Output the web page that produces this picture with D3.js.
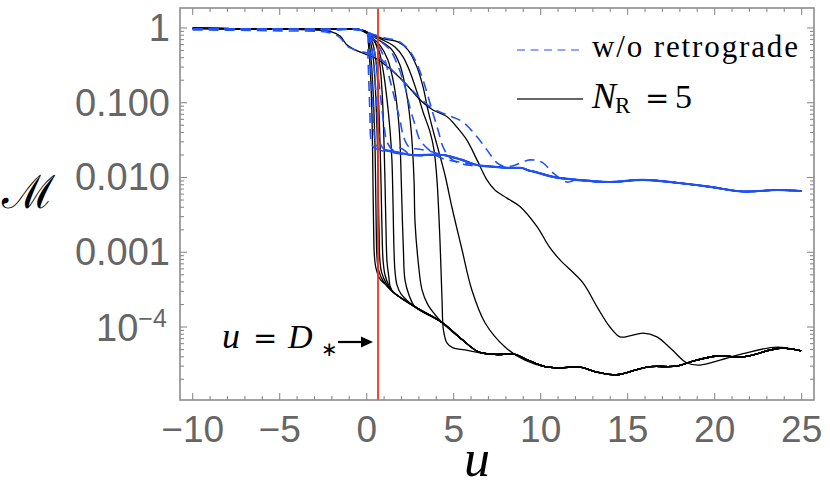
<!DOCTYPE html>
<html><head><meta charset="utf-8">
<script src="https://cdn.jsdelivr.net/npm/d3@7"></script>
<style>body{margin:0;background:#fff}</style>
</head><body>
<svg id="c" width="830" height="488"></svg>
<script>
// ---------- data (u, M) ----------
const xTicks = [-10, -5, 0, 5, 10, 15, 20, 25];
const xTickLabels = ["\u221210", "\u22125", "0", "5", "10", "15", "20", "25"];
const yTicks = [1, 0.1, 0.01, 0.001, 1e-4];
const yTickLabels = ["1", "0.100", "0.010", "0.001", "10^-4"];
const D_STAR = 0.65;

const TOP_BLACK = [[-10, 0.985], [-6, 0.98], [-2, 0.965], [-0.4, 0.95]];
const TOP_DASH  = [[-10, 0.97], [-6, 0.965], [-2, 0.955], [-0.4, 0.945]];

// common lower envelope of the N_R = 5 curves
const ENV = [[1.23,3.3e-4],[1.51,2.95e-4],[2.78,1.86e-4],[4.33,1.15e-4],[5.48,6.8e-5],[6.4,4.7e-5],
  [7.37,4.3e-5],[8.52,4.3e-5],[9.27,3.6e-5],[10.25,2.95e-5],[11.11,2.85e-5],[12.26,2.9e-5],
  [13.24,2.5e-5],[14.38,2.3e-5],[15.53,2.7e-5],[16.28,2.95e-5],[17.83,3.0e-5],[18.75,3.5e-5],
  [20.13,4.1e-5],[21.63,4.0e-5],[23.76,5.2e-5],[24.97,4.8e-5]];

const C1 = [[-10,0.985],[-3.83,0.95],[-2.1,0.90],[-1.53,0.78],[-1.13,0.59],[-0.67,0.51],[0.59,0.385],
  [1.22,0.30],[2.2,0.184],[3.18,0.103],[3.81,0.080],[4.62,0.065],[5.19,0.047],[5.76,0.0316],
  [6.34,0.0172],[6.91,0.0093],[7.37,0.0068],[8.06,0.0053],[8.81,0.0041],[9.79,0.0022],
  [10.53,0.00115],[11.11,0.00079],[12.43,3.9e-4],[13.24,1.86e-4],[13.98,1.0e-4],[14.55,7.4e-5],
  [15.12,7.6e-5],[15.88,8.3e-5],[16.68,7.4e-5],[17.54,5.0e-5],[18.41,3.3e-5],[19.16,3.1e-5],
  [20.31,3.6e-5],[21.63,4.4e-5],[23.58,5.4e-5],[24.97,4.8e-5]];
const C2 = [[0.30,0.83],[1.05,0.71],[1.80,0.65],[2.37,0.51],[2.89,0.30],[3.24,0.163],[3.52,0.080],
  [3.81,0.043],[4.04,0.0273],[4.50,0.0108],[4.90,0.0040],[5.48,0.00108],[6.05,3.1e-4],[6.80,1.14e-4],
  [7.95,5.4e-5],[9.10,3.6e-5]];
const C3 = [[0.30,0.805],[1.05,0.67],[1.63,0.557],[2.09,0.41],[2.49,0.258],[2.89,0.139],[3.24,0.0753],
  [3.64,0.0407],[3.87,0.0234],[4.04,0.0093],[4.21,0.00147],[4.33,2.31e-4],[4.41,9.2e-5],
  [4.61,6.15e-5],[4.96,5.27e-5],[5.65,4.95e-5],[6.51,4.52e-5]];
const C4 = [[0.30,0.78],[0.88,0.65],[1.45,0.51],[1.91,0.32],[2.20,0.173],[2.43,0.080],[2.60,0.0318],
  [2.72,0.0093],[2.78,0.00247],[2.95,7.9e-4],[3.18,3.14e-4],[3.52,1.98e-4],[3.93,1.46e-4]];
const C5 = [[0.25,0.76],[0.76,0.59],[1.22,0.373],[1.57,0.173],[1.80,0.0687],[1.91,0.0318],[1.97,0.0126],
  [2.03,0.00405],[2.11,0.00108],[2.20,4.27e-4],[2.43,2.69e-4]];
const C6 = [[0.19,0.78],[0.65,0.54],[0.94,0.275],[1.17,0.109],[1.34,0.0433],[1.45,0.0172],[1.51,0.0050],
  [1.57,0.00108],[1.63,5.47e-4],[1.74,3.66e-4],[1.97,2.78e-4]];
const C7 = [[0.13,0.83],[0.53,0.61],[0.76,0.32],[0.91,0.109],[0.99,0.0318],[1.05,0.0093],[1.11,0.0020],
  [1.17,7.4e-4],[1.28,4.55e-4],[1.34,3.56e-4]];
const C8 = [[0.10,0.845],[0.36,0.61],[0.56,0.32],[0.68,0.109],[0.76,0.0318],[0.82,0.0093],[0.88,0.0020],
  [0.94,7.9e-4],[1.05,5.0e-4],[1.28,3.56e-4]];
const C9 = [[0.07,0.857],[0.25,0.61],[0.42,0.32],[0.53,0.109],[0.61,0.0318],[0.65,0.0093],[0.71,0.0020],
  [0.75,8.4e-4],[0.85,5.47e-4],[1.11,3.9e-4]];
const C10 = [[0.05,0.857],[0.16,0.61],[0.28,0.32],[0.39,0.109],[0.47,0.0318],[0.51,0.0093],[0.55,0.0020],
  [0.59,8.7e-4],[0.68,5.8e-4],[0.94,4.15e-4]];
const C11 = [[0.02,0.857],[0.10,0.61],[0.19,0.32],[0.28,0.109],[0.33,0.0318],[0.36,0.0093],[0.40,0.0020],
  [0.44,9.2e-4],[0.53,6.2e-4],[0.76,4.4e-4],[1.11,3.66e-4]];

// blue solid curve
const BLUE = [[0.94,0.0234],[1.63,0.022],[2.6,0.020],[4.39,0.020],[5.48,0.0172],[6.34,0.0147],
  [7.37,0.0139],[8.24,0.0134],[8.93,0.0134],[9.22,0.0126],[9.67,0.0119],[10.71,0.0102],[12.09,0.0093],
  [13.98,0.0087],[15.88,0.0093],[17.83,0.0085],[19.73,0.0075],[21.63,0.0065],[23.58,0.0068],[25.0,0.0066]];

// w/o retrograde (dashed)
const D1 = [[-10,0.94],[-5.0,0.915],[-2.1,0.86],[-1.53,0.74],[-1.13,0.575],[-0.67,0.51],[0.59,0.42],
  [1.22,0.31],[2.2,0.184],[3.18,0.109],[3.81,0.083],[4.62,0.0686],[5.53,0.0553],[6.34,0.035],
  [6.91,0.0234],[7.49,0.0157],[7.95,0.0139],[8.41,0.0143],[9.39,0.0172],[10.13,0.0157],
  [10.71,0.0115],[11.51,0.0087]];
const D2 = [[0.30,0.83],[1.05,0.735],[1.80,0.67],[2.37,0.524],[2.78,0.373],[3.18,0.221],[3.47,0.135],
  [3.75,0.080],[4.10,0.0433],[4.39,0.0256],[4.79,0.0183],[5.25,0.0157],[5.77,0.0147],[6.34,0.0143]];
const D3 = [[0.25,0.805],[0.76,0.67],[1.34,0.51],[1.80,0.31],[2.20,0.163],[2.49,0.0852],[2.78,0.0505],
  [3.06,0.0318],[3.52,0.0241],[4.04,0.0194],[4.61,0.0172],[5.25,0.0162]];
const D4 = [[0.19,0.78],[0.65,0.59],[1.05,0.373],[1.34,0.20],[1.63,0.109],[1.91,0.059],[2.14,0.0338],
  [2.49,0.0249],[2.95,0.0241],[3.52,0.0227]];
const D5 = [[0.13,0.83],[0.42,0.51],[0.65,0.235],[0.82,0.109],[0.99,0.0505],[1.17,0.030],[1.51,0.0234],
  [1.91,0.0249]];
const D6 = [[0.07,0.857],[0.30,0.51],[0.48,0.20],[0.59,0.080],[0.71,0.037],[0.88,0.0256],[1.34,0.022]];
const D7 = [[0.05,0.857],[0.19,0.435],[0.30,0.173],[0.39,0.0687],[0.48,0.0318],[0.76,0.0234]];
const D8 = [[0.02,0.885],[0.07,0.435],[0.13,0.173],[0.19,0.0687],[0.25,0.0318],[0.42,0.0249]];

// ---------- chart ----------
const svg = d3.select("#c");
const L = 180, R = 814, T = 8, B = 400;
const x = d3.scaleLinear().domain([-10.73, 25.71]).range([L, R]);
const y = d3.scaleLog().domain([Math.pow(10, -4.976), Math.pow(10, 0.267)]).range([B, T]);

const withEnv = (head, from) => TOP_BLACK.concat(head, ENV.filter(d => d[0] > from));
const withBlue = (head, from) => TOP_DASH.concat(head, BLUE.filter(d => d[0] > from));

const blackCurves = [C1, withEnv(C2, 9.5), withEnv(C3, 7), withEnv(C4, 4.2), withEnv(C5, 2.7),
  withEnv(C6, 2.2), withEnv(C7, 1.5), withEnv(C8, 1.5), withEnv(C9, 1.5), withEnv(C10, 1.5), withEnv(C11, 1.5)];
const dashCurves = [D1.concat(BLUE.filter(d => d[0] > 11.8)), withBlue(D2, 6.8), withBlue(D3, 5.6),
  withBlue(D4, 4.0), withBlue(D5, 2.3), withBlue(D6, 1.7), withBlue(D7, 1.0), withBlue(D8, 0.9)];

const line = d3.line().x(d => x(d[0])).y(d => y(d[1])).curve(d3.curveCatmullRom.alpha(0.5));

const plot = svg.append("g");
plot.append("defs").append("clipPath").attr("id", "clip")
  .append("rect").attr("x", L).attr("y", T).attr("width", R - L).attr("height", B - T);
const g = plot.append("g").attr("clip-path", "url(#clip)");

g.selectAll("path.blk").data(blackCurves).join("path").attr("class", "blk")
  .attr("d", line).attr("fill", "none").attr("stroke", "#000").attr("stroke-width", 1.3);
g.selectAll("path.dsh").data(dashCurves).join("path").attr("class", "dsh")
  .attr("d", line).attr("fill", "none").attr("stroke", "#2152f7").attr("stroke-width", 1.6)
  .attr("stroke-dasharray", "10,6");
g.append("path").datum(BLUE).attr("d", line).attr("fill", "none")
  .attr("stroke", "#1f4ff5").attr("stroke-width", 2.2);
g.append("line").attr("x1", x(D_STAR)).attr("x2", x(D_STAR)).attr("y1", T).attr("y2", B)
  .attr("stroke", "#ee3322").attr("stroke-width", 1.8);

// frame and ticks
const axisCol = "#8c8c8c";
svg.append("rect").attr("x", L).attr("y", T).attr("width", R - L).attr("height", B - T)
  .attr("fill", "none").attr("stroke", axisCol).attr("stroke-width", 1.6);
const tk = svg.append("g").attr("stroke", axisCol).attr("stroke-width", 1.1);
d3.range(-10, 26, 1).forEach(v => {
  const len = v % 5 === 0 ? 7 : 4;
  tk.append("line").attr("x1", x(v)).attr("x2", x(v)).attr("y1", B).attr("y2", B - len);
  tk.append("line").attr("x1", x(v)).attr("x2", x(v)).attr("y1", T).attr("y2", T + len);
});
const yMinor = [];
for (let e = -5; e <= 0; e++) for (let m = 1; m <= 9; m++) {
  const v = m * Math.pow(10, e);
  if (v >= y.domain()[0] && v <= y.domain()[1]) yMinor.push([v, m === 1]);
}
yMinor.forEach(([v, major]) => {
  const len = major ? 7 : 4;
  tk.append("line").attr("x1", L).attr("x2", L + len).attr("y1", y(v)).attr("y2", y(v));
  tk.append("line").attr("x1", R).attr("x2", R - len).attr("y1", y(v)).attr("y2", y(v));
});

// tick labels
const labCol = "#666";
const lf = "'Liberation Sans', Arial, sans-serif";
svg.selectAll("text.xl").data(xTicks).join("text").attr("class", "xl")
  .attr("x", d => x(d)).attr("y", 442).attr("text-anchor", "middle")
  .attr("font-family", lf).attr("font-size", 37).attr("fill", labCol)
  .text((d, i) => xTickLabels[i]);
yTicks.forEach((v, i) => {
  const lab = yTickLabels[i];
  if (lab.indexOf("^") < 0) {
    svg.append("text").attr("x", 170).attr("y", y(v) + 13).attr("text-anchor", "end")
      .attr("font-family", lf).attr("font-size", 38).attr("fill", labCol).text(lab);
  } else {
    const [base, ex] = lab.split("^");
    const t = svg.append("text").attr("x", 96).attr("y", y(v) + 14)
      .attr("font-family", lf).attr("font-size", 38).attr("fill", labCol);
    t.append("tspan").text(base);
    t.append("tspan").attr("font-size", 25).attr("dy", -14).text(ex.replace("-", "\u2212"));
  }
});

// axis titles
svg.append("text").attr("x", 477).attr("y", 476).attr("text-anchor", "middle")
  .attr("font-family", "'Liberation Serif', serif").attr("font-style", "italic")
  .attr("font-size", 52).attr("fill", "#000").text("u");
svg.append("text").attr("x", 28).attr("y", 208).attr("text-anchor", "middle")
  .attr("font-family", "'DejaVu Serif', serif").attr("font-size", 46).attr("fill", "#000").text("\u2133");

// legend
const serif = "'Liberation Serif', 'Times New Roman', serif";
svg.append("line").attr("x1", 517).attr("x2", 583).attr("y1", 50).attr("y2", 50)
  .attr("stroke", "#2152f7").attr("stroke-width", 1.1).attr("stroke-dasharray", "8,5.5");
svg.append("text").attr("x", 592).attr("y", 57).attr("font-family", serif).attr("font-size", 31)
  .attr("textLength", 206).attr("lengthAdjust", "spacing").text("w/o retrograde");
svg.append("line").attr("x1", 517).attr("x2", 583).attr("y1", 99).attr("y2", 99)
  .attr("stroke", "#333").attr("stroke-width", 1.3);
svg.append("text").attr("x", 592).attr("y", 108).attr("font-family", serif).attr("font-style", "italic")
  .attr("font-size", 36).text("N");
svg.append("text").attr("x", 615).attr("y", 113).attr("font-family", serif).attr("font-size", 23).text("R");
svg.append("text").attr("x", 645).attr("y", 108).attr("font-family", "'DejaVu Serif', serif")
  .attr("font-size", 29).text("=");
svg.append("text").attr("x", 675).attr("y", 108).attr("font-family", serif).attr("font-size", 34).text("5");

// annotation u = D*
svg.append("text").attr("x", 222).attr("y", 348).attr("font-family", serif).attr("font-style", "italic")
  .attr("font-size", 36).text("u");
svg.append("text").attr("x", 253).attr("y", 348).attr("font-family", "'DejaVu Serif', serif")
  .attr("font-size", 29).text("=");
svg.append("text").attr("x", 288).attr("y", 348).attr("font-family", serif).attr("font-style", "italic")
  .attr("font-size", 34).text("D");
svg.append("text").attr("x", 321).attr("y", 356).attr("font-family", "'DejaVu Sans', sans-serif")
  .attr("font-size", 20).text("\u2217");
svg.append("line").attr("x1", 338).attr("x2", 364).attr("y1", 342).attr("y2", 342)
  .attr("stroke", "#000").attr("stroke-width", 2.2);
svg.append("path").attr("d", "M373,342 L361,336.5 L361,347.5 Z").attr("fill", "#000");
</script>
</body></html>
